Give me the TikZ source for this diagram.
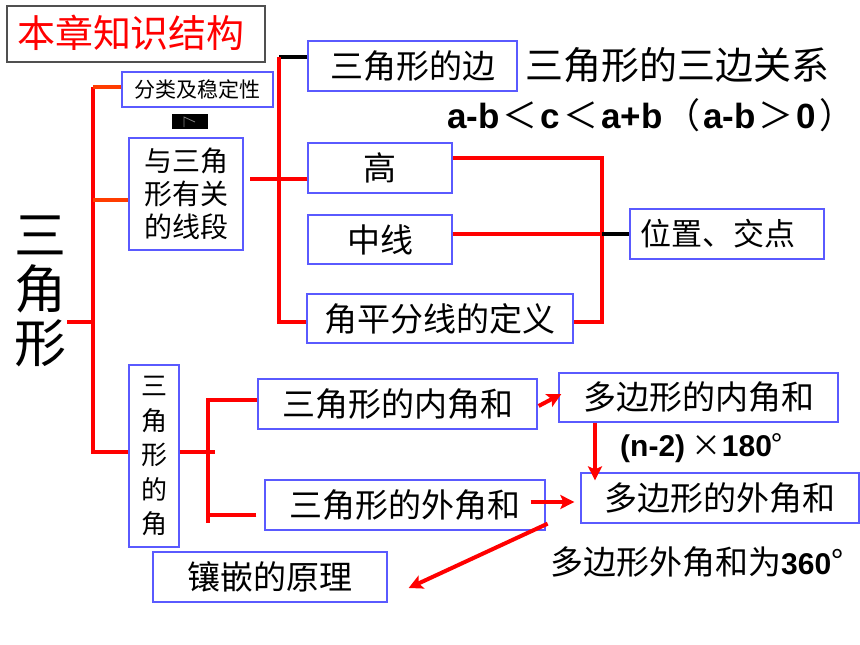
\documentclass[tikz,border=0pt]{standalone}
\usepackage{fontspec}
\setmainfont{Noto Sans CJK SC}
\newfontfamily\cjk{Noto Sans CJK SC}
\newfontfamily\lat{Liberation Sans}
\usetikzlibrary{arrows.meta}
\definecolor{bx}{RGB}{90,90,255}
\definecolor{rd}{RGB}{255,0,0}
\definecolor{orr}{RGB}{255,60,0}
\definecolor{tg}{RGB}{80,80,80}
\tikzset{
  box/.style={draw=bx,line width=1.3pt,inner sep=0pt,text=black},
  rl/.style={draw=rd,line width=4pt},
  orl/.style={draw=orr,line width=4pt},
  bl/.style={draw=black,line width=4pt},
  ar/.style={draw=rd,line width=4pt,-{Stealth[length=14pt,width=14pt,inset=3pt]}},
}
\newcommand{\mybox}[6]{% name, x1,y1,x2,y2, text
  \node[box,minimum width={#4-#2},minimum height={#5-#3}] (#1) at ({(#2+#4)/2},{(#3+#5)/2}) {#6};}
\newcommand{\fw}[1]{\kern3pt{\cjk\mdseries #1}\kern3pt}
\begin{document}
\begin{tikzpicture}[x=1pt,y=-1pt]
\useasboundingbox (0,0) rectangle (860,645);
\fill[white] (0,0) rectangle (860,645);

% title
\node[draw=tg,line width=1.3pt,minimum width=258,minimum height=56,inner sep=0pt] (title) at (136,34) {};
\node[text=rd,font=\fontsize{38}{40}\selectfont,inner sep=0pt] (titletxt) at (131,33) {本章知识结构};

% big label
\node[inner sep=0pt,align=center,font=\fontsize{52}{54}\selectfont] (big) at (41,291) {三\\角\\形};

% boxes
\mybox{fenlei}{122}{72}{273}{107}{\fontsize{21}{23}\selectfont 分类及稳定性}
\node[box,minimum width=114,minimum height=112,align=center,font=\fontsize{28}{33}\selectfont] (xianduan) at (186,194) {与三角\\形有关\\的线段};
\mybox{bian}{308}{41}{517}{91}{\fontsize{33}{36}\selectfont 三角形的边}
\mybox{gao}{308}{143}{452}{193}{\fontsize{33}{36}\selectfont 高}
\mybox{zhongxian}{308}{215}{452}{264}{\fontsize{33}{36}\selectfont 中线}
\mybox{jiaoping}{307}{294}{573}{343}{\fontsize{33}{36}\selectfont 角平分线的定义}
\mybox{weizhi}{630}{209}{824}{259}{}
\node[anchor=west,inner sep=0pt,font=\fontsize{31}{34}\selectfont] (weizhitxt) at (640,234) {位置、交点};
\node[box,minimum width=50,minimum height=182,align=center,font=\fontsize{26}{34.5}\selectfont] (jiao) at (154,456) {三\\角\\形\\的\\角};
\mybox{neijiao}{258}{379}{537}{429}{\fontsize{33}{36}\selectfont 三角形的内角和}
\mybox{waijiao}{265}{480}{545}{530}{\fontsize{33}{36}\selectfont 三角形的外角和}
\mybox{xiangqian}{153}{552}{387}{602}{\fontsize{33}{36}\selectfont 镶嵌的原理}
\mybox{dneijiao}{559}{373}{838}{422}{\fontsize{33}{36}\selectfont 多边形的内角和}
\mybox{dwaijiao}{581}{473}{859}{523}{\fontsize{33}{36}\selectfont 多边形的外角和}

% free texts
\node[anchor=west,inner sep=0pt,font=\fontsize{38}{40}\selectfont] (sanbian) at (525,65) {三角形的三边关系};
\node[anchor=west,inner sep=0pt,font=\fontsize{35}{38}\selectfont\bfseries] (ineq) at (447,115)
  {{\lat a-b}\fw{＜}{\lat c}\fw{＜}{\lat a+b}\fw{（}{\lat a-b}\fw{＞}{\lat 0}\fw{）}};
\node[anchor=west,inner sep=0pt,font=\fontsize{30}{32}\selectfont] (nfor) at (620,448)
  {{\lat\bfseries (n-2)} {\cjk ×}{\lat\bfseries 180}{\cjk °}};
\node[anchor=west,inner sep=0pt,font=\fontsize{33}{36}\selectfont] (w360) at (550,562)
  {多边形外角和为{\lat\bfseries\fontsize{30}{32}\selectfont 360}°};

% small black mark
\node[fill=black,minimum width=36,minimum height=15,inner sep=0pt] (mark) at (190,121.5) {};
\draw[gray,line width=0.8pt] (184,127) -- (184,117) -- (195,122);

% coordinates of buses
\coordinate (trunk) at (93,322);
\coordinate (bus2) at (279,322);
\coordinate (b3) at (602,322);
\coordinate (b4t) at (208,400);
\coordinate (b4b) at (208,523);

% main trunk
\draw[rl] (big.east |- trunk) -- (trunk);
\draw[rl] (93,87) -- (93,452) -- ([yshift=4pt]jiao.west);
\draw[orl] ([yshift=2.5pt]fenlei.west) -- ([yshift=2.5pt]fenlei.west -| trunk);
\draw[orl] ([yshift=-6pt]xianduan.west) -- ([yshift=-6pt]xianduan.west -| trunk);

% bus 2
\draw[bl] ([yshift=9pt]bian.west) -- ([yshift=9pt]bian.west -| bus2);
\draw[rl] (279,57) -- (bus2) -- ([yshift=-3.5pt]jiaoping.west);
\draw[rl] ([yshift=-11pt]gao.west) -- ++(-57,0);

% bus 3
\draw[rl] ([yshift=10pt]gao.east) -| (b3) -- ([yshift=-3.5pt]jiaoping.east);
\draw[rl] (zhongxian.east |- weizhi.west) -- (b3 |- weizhi.west);
\draw[bl] (b3 |- weizhi.west) -- (weizhi.west);

% bus 4
\draw[rl] ([yshift=4pt]jiao.east) -- ++(35,0);
\draw[rl] ([yshift=4pt]neijiao.west) -| (b4b);
\draw[rl] ([yshift=-10pt,xshift=-8pt]waijiao.west) -- (b4t |- 0,515);

% arrows
\draw[ar] ([yshift=-2pt,xshift=1pt]neijiao.east) -- ([xshift=3pt,yshift=3.5pt]dneijiao.west);
\coordinate (a2s) at ([xshift=-15pt,yshift=3pt]waijiao.east);
\draw[ar] (a2s) -- ([xshift=-6pt]a2s -| dwaijiao.west);
\draw[ar] ([xshift=-103.5pt]dneijiao.south) -- ([xshift=-103.5pt,yshift=-8pt]dwaijiao.north -| dneijiao.south);
\draw[ar] ([xshift=2pt,yshift=7pt]waijiao.south east) -- ([xshift=21pt,yshift=-11pt]xiangqian.east);
\end{tikzpicture}
\end{document}
